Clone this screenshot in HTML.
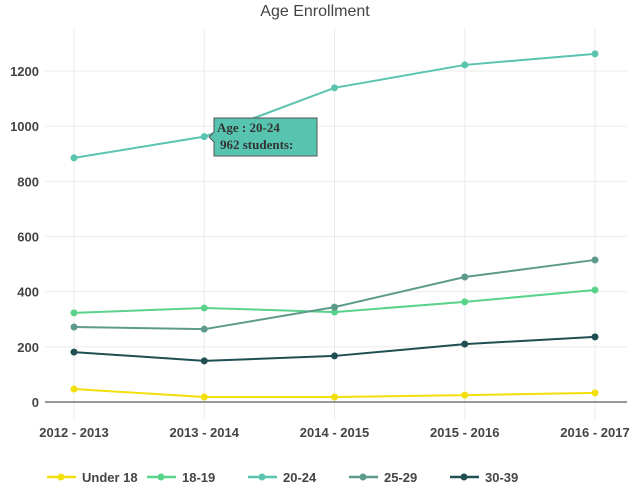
<!DOCTYPE html>
<html><head><meta charset="utf-8"><style>
body{margin:0;background:#fff;width:641px;height:491px;overflow:hidden}
svg{font-family:"Liberation Sans",sans-serif}
</style></head><body>
<svg id="chart" width="641" height="491" xmlns="http://www.w3.org/2000/svg">
<text x="315" y="16" text-anchor="middle" font-size="16" fill="#444">Age  Enrollment</text>
<g id="grid"></g><g id="axes"></g><g id="series"></g><g id="legend"></g>
<g>
<path d="M214,118 L317,118 L317,156 L214,156 L214,142 L209,137 L214,132 Z" fill="#57c4b0" stroke="#555" stroke-width="1"/>
<text x="217" y="132" font-family="Liberation Serif,serif" font-weight="bold" font-size="13" fill="#333">Age : 20-24</text>
<text x="220" y="149" font-family="Liberation Serif,serif" font-weight="bold" font-size="13" fill="#333">962  students:</text>
</g>
</svg>
<script>
const categories=["2012 - 2013","2013 - 2014","2014 - 2015","2015 - 2016","2016 - 2017"];
const seriesNames=["Under 18","18-19","20-24","25-29","30-39"];
const under18=[47,18,18,25,33];
const age1819=[323,341,326,363,406];
const age2024=[885,962,1139,1222,1262];
const age2529=[272,264,344,453,515];
const age3039=[181,149,167,210,236];
const yTicks=[0,200,400,600,800,1000,1200];
const colors=["#f2df0c","#5ad38a","#5bc4b0","#5d9a8c","#1f4f52"];
const allSeries=[under18,age1819,age2024,age2529,age3039];
const NS="http://www.w3.org/2000/svg";
const x=i=>74+i*130.25;
const y=v=>402-v*(331/1200);
function mk(tag,attrs,parent){const e=document.createElementNS(NS,tag);for(const k in attrs)e.setAttribute(k,attrs[k]);parent.appendChild(e);return e;}
const grid=document.getElementById('grid'),axes=document.getElementById('axes'),ser=document.getElementById('series'),leg=document.getElementById('legend');
yTicks.forEach(t=>{
 if(t>0){const l=mk('line',{x1:45,x2:627,y1:y(t),y2:y(t),stroke:'#ebebeb'},grid);
 
 }
 const tx=mk('text',{x:39,y:y(t)+5,'text-anchor':'end','font-size':13,'font-weight':'bold',fill:'#444'},axes);tx.textContent=t;
 
 
});
categories.forEach((c,i)=>{
 const l=mk('line',{x1:x(i),x2:x(i),y1:28,y2:420,stroke:'#ebebeb'},grid);
 
 
 const tx=mk('text',{x:x(i),y:437,'text-anchor':'middle','font-size':13,'font-weight':'bold',fill:'#444'},axes);tx.textContent=c;
 
 
});
const ax=mk('line',{x1:45,x2:627,y1:402,y2:402,stroke:'#333'},axes);


allSeries.forEach((d,s)=>{
 const p=mk('polyline',{points:d.map((v,i)=>x(i)+','+y(v)).join(' '),fill:'none',stroke:colors[s],'stroke-width':2},ser);
 
 
 d.forEach((v,i)=>{const c=mk('circle',{cx:x(i),cy:y(v),r:3.5,fill:colors[s]},ser);
 
 });
});
const lx=[47,147,248,349,450];
seriesNames.forEach((n,s)=>{
 const g=mk('g',{},leg);
 
 
 mk('line',{x1:lx[s],x2:lx[s]+29,y1:477,y2:477,stroke:colors[s],'stroke-width':2.5},g);
 mk('circle',{cx:lx[s]+14,cy:477,r:3.5,fill:colors[s]},g);
 const t=mk('text',{x:lx[s]+35,y:482,'font-size':13,'font-weight':'bold',fill:'#444'},g);t.textContent=n;
});
</script>
</body></html>
